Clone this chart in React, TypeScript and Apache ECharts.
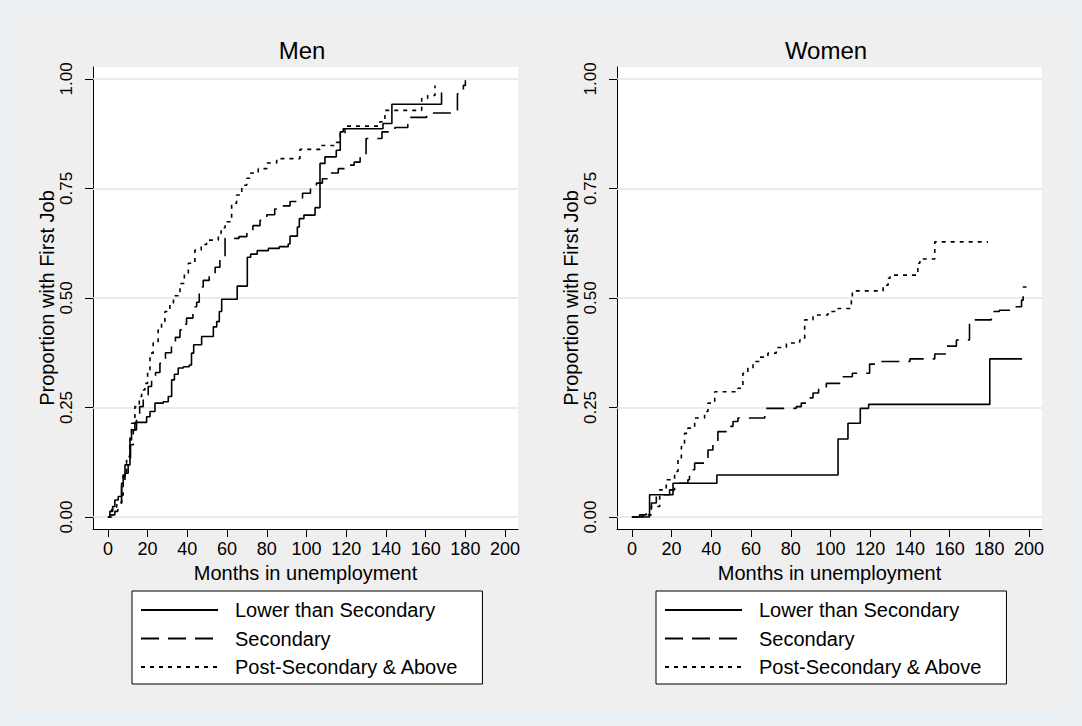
import React, { useEffect, useRef } from 'react';
import * as echarts from 'echarts';

// Education groups shown in both panels
const groups = ['Lower than Secondary', 'Secondary', 'Post-Secondary & Above'];

// Axis ticks
const monthTicks = [0, 20, 40, 60, 80, 100, 120, 140, 160, 180, 200];
const proportionTicks = [0, 0.25, 0.5, 0.75, 1];

// Cumulative proportion with a first job: [month, proportion] at each step
const menLower = [
  [0, 0], [1, 0.013], [2.4, 0.024], [3.5, 0.039], [5.2, 0.047], [6.9, 0.077], [7.7, 0.093],
  [8.6, 0.119], [11.1, 0.18], [11.9, 0.199], [13.6, 0.216], [19.5, 0.229], [21.2, 0.241],
  [23.7, 0.26], [27.9, 0.263], [30.4, 0.275], [32.1, 0.313], [33.5, 0.326], [35.4, 0.34],
  [38, 0.343], [41, 0.347], [42.1, 0.374], [43.2, 0.393], [47.2, 0.412], [53.1, 0.434],
  [54.8, 0.446], [56.1, 0.469], [57.3, 0.497], [65.1, 0.527], [70.2, 0.593], [71.9, 0.6],
  [75.2, 0.608], [80.8, 0.613], [86.3, 0.617], [90.8, 0.623], [91.7, 0.641], [95.4, 0.662],
  [96.4, 0.681], [98.7, 0.689], [104.3, 0.706], [106.8, 0.807], [109.3, 0.822], [115, 0.837],
  [117, 0.879], [118.5, 0.886], [138.5, 0.898], [143, 0.942], [168, 0.969],
];
const menSecondary = [
  [0, 0], [1, 0.005], [3.5, 0.013], [5, 0.02], [6.4, 0.033], [6.9, 0.07], [8.6, 0.1],
  [10.2, 0.135], [11.4, 0.165], [12.8, 0.199], [14.4, 0.229], [16, 0.252], [17.8, 0.279],
  [20.3, 0.298], [22, 0.313], [24, 0.33], [26.2, 0.351], [29, 0.375], [32, 0.397], [34, 0.41],
  [36.3, 0.427], [38, 0.44], [39.6, 0.454], [42.8, 0.48], [44.7, 0.49], [46, 0.525], [48, 0.54],
  [51, 0.55], [54, 0.57], [56.4, 0.59], [59, 0.636], [66, 0.64], [70, 0.655], [73, 0.665],
  [76.6, 0.677], [80, 0.69], [84, 0.703], [88, 0.71], [91.7, 0.72], [95, 0.728], [98, 0.739],
  [102, 0.75], [105, 0.762], [108, 0.772], [111, 0.785], [116, 0.795], [120, 0.803], [124, 0.81],
  [127, 0.822], [130, 0.864], [138, 0.879], [144.5, 0.889], [151, 0.912], [160.5, 0.922],
  [176, 0.966], [179, 0.985], [180, 0.997],
];
const menPostSecondary = [
  [0, 0], [1.9, 0.017], [4.4, 0.028], [6.9, 0.05], [7.7, 0.1], [9.4, 0.138], [11, 0.176],
  [11.9, 0.214], [13.6, 0.252], [15.8, 0.275], [17, 0.29], [18.6, 0.305], [20, 0.33],
  [21.2, 0.374], [22.8, 0.397], [25.3, 0.427], [27, 0.446], [28.7, 0.469], [31.2, 0.485],
  [33, 0.505], [36.3, 0.533], [38.5, 0.555], [40.5, 0.579], [43.8, 0.609], [47, 0.622],
  [49.7, 0.632], [55.6, 0.647], [57, 0.66], [59, 0.674], [62.3, 0.716], [64.8, 0.735],
  [67.4, 0.757], [69.9, 0.773], [72, 0.785], [75.7, 0.795], [80, 0.808], [85, 0.818],
  [96.7, 0.839], [106.8, 0.848], [115, 0.855], [117, 0.875], [119.4, 0.892], [137, 0.902],
  [139.5, 0.928], [158, 0.955], [161, 0.962], [164.7, 0.985],
];

const womenLower = [
  [0, 0], [8.9, 0.051], [20.7, 0.077], [42.8, 0.096], [103.8, 0.178], [108.8, 0.214],
  [115, 0.248], [119.2, 0.257], [180.2, 0.361], [196.5, 0.361],
];
const womenSecondary = [
  [0, 0], [3.9, 0.005], [7.2, 0.013], [9.8, 0.032], [12.3, 0.051], [19, 0.062], [21.5, 0.077],
  [28.2, 0.085], [29, 0.108], [31.6, 0.123], [36.6, 0.127], [38.3, 0.153], [40.8, 0.165],
  [43.3, 0.195], [47.6, 0.207], [50.9, 0.218], [53.4, 0.226], [66.9, 0.248], [82.8, 0.252],
  [85.3, 0.26], [88, 0.272], [91.2, 0.283], [94, 0.294], [97.9, 0.305], [104.6, 0.32],
  [111, 0.328], [119.7, 0.349], [123, 0.355], [140, 0.361], [152.5, 0.372], [158.4, 0.39],
  [163.4, 0.404], [170, 0.45], [181, 0.469], [185, 0.472], [191, 0.48], [196.2, 0.495],
  [197, 0.525], [198.7, 0.525],
];
const womenPostSecondary = [
  [0, 0], [5.5, 0.005], [9.8, 0.024], [14, 0.062], [17.3, 0.085], [21.5, 0.104], [23.2, 0.131],
  [24.9, 0.161], [26.5, 0.191], [28.2, 0.203], [31.6, 0.226], [36.6, 0.241], [38.3, 0.26],
  [41.7, 0.286], [53.4, 0.294], [55.9, 0.328], [58.4, 0.34], [61, 0.355], [64.3, 0.365],
  [68.5, 0.374], [72.7, 0.387], [77.8, 0.397], [84.5, 0.404], [87, 0.45], [91.2, 0.461],
  [98.7, 0.469], [103.8, 0.476], [110.5, 0.494], [111, 0.516], [126.5, 0.529], [129, 0.545],
  [130, 0.552], [144, 0.579], [145, 0.589], [152.5, 0.628], [179.3, 0.628],
];

const panels = [
  { title: 'Men', series: [menLower, menSecondary, menPostSecondary] },
  { title: 'Women', series: [womenLower, womenSecondary, womenPostSecondary] },
];

const FONT = "'Liberation Sans', Arial, Helvetica, sans-serif";
const lineTypes: any[] = ['solid', [18, 9], [4, 5]];

const PANEL_LEFT = [93, 617];
const GRID_TOP = 67;
const GRID_W = 425;
const GRID_H = 462;

function buildOption() {
  const grid: any[] = [];
  const xAxis: any[] = [];
  const yAxis: any[] = [];
  const series: any[] = [];
  const title: any[] = [];
  const legend: any[] = [];

  panels.forEach((panel, i) => {
    const left = PANEL_LEFT[i];
    grid.push({
      left,
      top: GRID_TOP,
      width: GRID_W,
      height: GRID_H,
      show: true,
      backgroundColor: '#ffffff',
      borderWidth: 0,
    });
    xAxis.push({
      type: 'value',
      gridIndex: i,
      min: -7.5,
      max: 206.5,
      axisLine: { show: true, onZero: false, lineStyle: { color: '#000', width: 1 } },
      axisTick: { show: true, customValues: monthTicks, length: 8, lineStyle: { color: '#000', width: 1 } },
      axisLabel: { customValues: monthTicks, fontSize: 18, color: '#000', margin: 11, fontFamily: FONT },
      splitLine: { show: false },
      name: 'Months in unemployment',
      nameLocation: 'middle',
      nameGap: 28,
      nameTextStyle: { fontSize: 20, color: '#000', fontFamily: FONT },
    });
    yAxis.push({
      type: 'value',
      gridIndex: i,
      min: -0.0273,
      max: 1.027,
      axisLine: { show: true, onZero: false, lineStyle: { color: '#000', width: 1 } },
      axisTick: { show: true, customValues: proportionTicks, length: 8, lineStyle: { color: '#000', width: 1 } },
      axisLabel: {
        customValues: proportionTicks,
        rotate: 90,
        fontSize: 17,
        color: '#000',
        margin: 18,
        fontFamily: FONT,
        formatter: (v: number) => v.toFixed(2),
      },
      splitLine: { show: false },
      name: 'Proportion with First Job',
      nameLocation: 'middle',
      nameRotate: 90,
      nameGap: 35,
      nameTextStyle: { fontSize: 20, color: '#000', fontFamily: FONT },
    });
    title.push({
      text: panel.title,
      left: left + 204,
      top: 33,
      textAlign: 'center',
      textStyle: { fontSize: 24, fontWeight: 'normal', color: '#000', fontFamily: FONT },
    });
    legend.push({
      data: groups,
      left: left + 39,
      top: 591,
      orient: 'vertical',
      itemWidth: 77,
      itemHeight: 20,
      itemGap: 8.5,
      backgroundColor: '#ffffff',
      borderColor: '#000',
      borderWidth: 1,
      borderRadius: 0,
      padding: [9, 24, 7, 8],
      selectedMode: false,
      itemStyle: { opacity: 0, borderWidth: 0 },
      textStyle: { fontSize: 20, color: '#000', fontFamily: FONT, padding: [0, 0, 0, 12] },
    });
    // horizontal reference lines at the labelled proportions
    series.push({
      type: 'line',
      xAxisIndex: i,
      yAxisIndex: i,
      data: [],
      silent: true,
      markLine: {
        silent: true,
        symbol: 'none',
        z: 1,
        label: { show: false },
        lineStyle: { color: '#e4e4e4', type: 'solid', width: 1.5 },
        data: proportionTicks.map((v) => ({ yAxis: v })),
      },
    });
    panel.series.forEach((data, k) => {
      series.push({
        name: groups[k],
        type: 'line',
        xAxisIndex: i,
        yAxisIndex: i,
        step: 'end',
        symbol: 'none',
        showSymbol: false,
        z: 3,
        data,
        lineStyle: { color: '#000', width: 1.6, type: lineTypes[k] },
        itemStyle: { color: '#000' },
      });
    });
  });

  return {
    animation: false,
    backgroundColor: 'transparent',
    textStyle: { fontFamily: FONT },
    grid,
    xAxis,
    yAxis,
    title,
    legend,
    series,
  };
}

export default function App() {
  const ref = useRef<HTMLDivElement>(null);

  useEffect(() => {
    document.body.style.margin = '0';
    if (!ref.current) return;
    const chart = echarts.init(ref.current, undefined, { renderer: 'svg' });
    chart.setOption(buildOption() as any);
    return () => chart.dispose();
  }, []);

  return (
    <div style={{ position: 'relative', width: 1082, height: 726, background: '#e9eff2' }}>
      <div
        style={{
          position: 'absolute',
          left: 14,
          top: 14,
          width: 1054,
          height: 698,
          background: '#efefef',
        }}
      />
      <div ref={ref} style={{ position: 'absolute', left: 0, top: 0, width: 1082, height: 726 }} />
    </div>
  );
}
